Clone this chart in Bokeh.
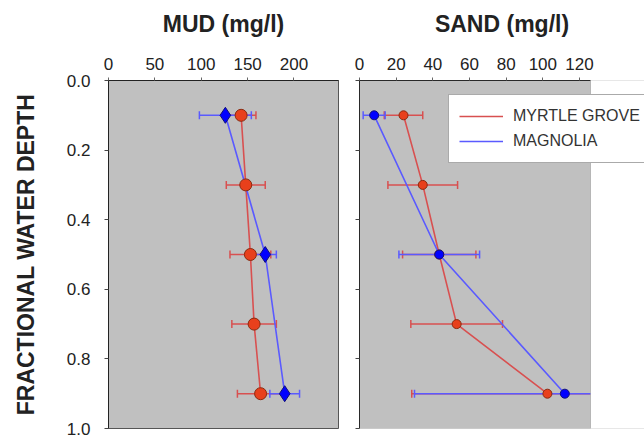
from bokeh.plotting import figure
from bokeh.models import (Range1d, FixedTicker, PrintfTickFormatter, Whisker,
                          ColumnDataSource, TeeHead, Legend, LegendItem, BoxAnnotation)
from bokeh.layouts import row
from bokeh.embed import file_html
from bokeh.resources import INLINE

# ---------------- data ----------------
depth_mg = [0.1, 0.3, 0.5, 0.7, 0.9]          # Myrtle Grove sample depths
depth_mag = [0.1, 0.5, 0.9]                   # Magnolia sample depths

mud_mg = [143, 148, 153, 157, 164]
mud_mg_err = [16, 21, 22, 24, 25]
mud_mag = [126, 169, 190]
mud_mag_err = [28, 12, 16]

sand_mg = [24, 34.5, 43.5, 53, 102.5]
sand_mg_err = [10.5, 19, 20, 25, 74]
sand_mag = [8, 43.5, 112]
sand_mag_err = [6, 22, 82]

series_names = ["MYRTLE GROVE", "MAGNOLIA"]
mud_ticks = [0, 50, 100, 150, 200]
sand_ticks = [0, 20, 40, 60, 80, 100, 120]
depth_ticks = [0.0, 0.2, 0.4, 0.6, 0.8, 1.0]

MUD_MAX = 248
SAND_MAX = 126

# ---------------- styles ----------------
FONT = "Liberation Sans"
RED_LINE = "#d85050"
RED_FILL = "#e8401c"
RED_EDGE = "#8a2a10"
BLUE_LINE = "#5a5aff"
BLUE_FILL = "#0000ff"
BLUE_EDGE = "#10107a"
FRAME_BG = "#c0c0c0"
TXT = "#222222"
OUTLINE = "#555555"


def src(depth, vals, errs):
    return ColumnDataSource(dict(
        y=depth, x=vals,
        lo=[v - e for v, e in zip(vals, errs)],
        hi=[v + e for v, e in zip(vals, errs)],
    ))


def style(p, title, ticks, show_ylabels):
    p.background_fill_color = FRAME_BG
    p.border_fill_color = "white"
    p.outline_line_color = OUTLINE
    p.outline_line_width = 1
    p.grid.visible = False

    xa = p.xaxis[0]
    xa.axis_label = title
    xa.axis_label_text_font = FONT
    xa.axis_label_text_font_size = "23px"
    xa.axis_label_text_font_style = "bold"
    xa.axis_label_text_color = TXT
    xa.axis_label_standoff = 18
    xa.ticker = FixedTicker(ticks=ticks)
    xa.major_label_text_font = FONT
    xa.major_label_text_font_size = "17px"
    xa.major_label_text_color = TXT
    xa.major_label_standoff = 8
    xa.major_tick_out = 3
    xa.major_tick_in = 0
    xa.minor_tick_line_color = None
    xa.axis_line_color = "#222222"
    xa.major_tick_line_color = "#666666"

    ya = p.yaxis[0]
    ya.ticker = FixedTicker(ticks=depth_ticks)
    if show_ylabels:
        ya.formatter = PrintfTickFormatter(format="%.1f")
    else:
        ya.major_label_overrides = {t: "" for t in depth_ticks}
    ya.major_label_text_font = FONT
    ya.major_label_text_font_size = "17px"
    ya.major_label_text_color = TXT
    ya.major_label_standoff = 14
    ya.major_tick_out = 4
    ya.major_tick_in = 0
    ya.minor_tick_line_color = None
    ya.axis_line_color = "#222222"
    ya.major_tick_line_color = "#444444"


def draw(p, s_mg, s_mag, msize_mg, msize_mag, mag_marker):
    p.add_layout(Whisker(source=s_mg, base="y", lower="lo", upper="hi", dimension="width",
                         line_color=RED_LINE, line_width=1.5,
                         lower_head=TeeHead(size=8, line_color=RED_LINE, line_width=1.5),
                         upper_head=TeeHead(size=8, line_color=RED_LINE, line_width=1.5)))
    p.add_layout(Whisker(source=s_mag, base="y", lower="lo", upper="hi", dimension="width",
                         line_color=BLUE_LINE, line_width=1.5,
                         lower_head=TeeHead(size=8, line_color=BLUE_LINE, line_width=1.5),
                         upper_head=TeeHead(size=8, line_color=BLUE_LINE, line_width=1.5)))
    l1 = p.line("x", "y", source=s_mg, line_color=RED_LINE, line_width=1.6)
    l2 = p.line("x", "y", source=s_mag, line_color=BLUE_LINE, line_width=1.6)
    m1 = p.scatter("x", "y", source=s_mg, marker="circle", size=msize_mg,
                   fill_color=RED_FILL, line_color=RED_EDGE, line_width=1)
    m2 = p.scatter("x", "y", source=s_mag, marker=mag_marker, size=msize_mag,
                   fill_color=BLUE_FILL, line_color=BLUE_EDGE, line_width=1)
    return l1, l2, m1, m2


# ---------------- MUD panel ----------------
p1 = figure(width=348, height=439, output_backend="svg", toolbar_location=None,
            title=None,
            x_range=Range1d(0, MUD_MAX), y_range=Range1d(1.0, 0.0),
            x_axis_location="above", min_border_left=108, min_border_right=10,
            min_border_top=80, min_border_bottom=11)
style(p1, "MUD (mg/l)", mud_ticks, True)
p1.yaxis[0].axis_label = "FRACTIONAL WATER DEPTH"
p1.yaxis[0].axis_label_text_font = FONT
p1.yaxis[0].axis_label_text_font_size = "23px"
p1.yaxis[0].axis_label_text_font_style = "bold"
p1.yaxis[0].axis_label_text_color = TXT
p1.yaxis[0].axis_label_standoff = 25
draw(p1, src(depth_mg, mud_mg, mud_mg_err), src(depth_mag, mud_mag, mud_mag_err),
     12, 16, "diamond")

# ---------------- SAND panel ----------------
# the frame runs to the canvas edge so that the legend can overhang the grey area
P2_W, P2_LEFT = 296, 11
GREY_W = 231
p2 = figure(width=P2_W, height=439, output_backend="svg", toolbar_location=None,
            title=None,
            x_range=Range1d(0, SAND_MAX * (P2_W - P2_LEFT) / GREY_W),
            y_range=Range1d(1.0, 0.0),
            x_axis_location="above", min_border_left=P2_LEFT, min_border_right=0,
            min_border_top=80, min_border_bottom=11)
style(p2, "SAND (mg/l)", sand_ticks, False)
p2.outline_line_color = None
p2.xaxis[0].bounds = (0, SAND_MAX)
l1, l2, m1, m2 = draw(p2, src(depth_mg, sand_mg, sand_mg_err),
                      src(depth_mag, sand_mag, sand_mag_err), 9, 9, "circle")

# white area right of the plotting region, then the region's outline
p2.add_layout(BoxAnnotation(left=SAND_MAX, fill_color="white", fill_alpha=1.0,
                            line_color=None))
p2.add_layout(BoxAnnotation(left=0, right=SAND_MAX, fill_color=None, fill_alpha=0,
                            line_color=OUTLINE, line_width=1))

# legend-only glyphs (no data) to show the legend symbols
lg1 = p2.scatter(x=[], y=[], marker="circle", size=12, fill_color=RED_FILL,
                 line_color=RED_EDGE)
lg2 = p2.scatter(x=[], y=[], marker="diamond", size=16, fill_color=BLUE_FILL,
                 line_color=BLUE_EDGE)
legend = Legend(items=[LegendItem(label=series_names[0], renderers=[l1, lg1]),
                       LegendItem(label=series_names[1], renderers=[l2, lg2])],
                location=(89, 265), orientation="vertical",
                label_text_font=FONT, label_text_font_size="16px",
                label_text_color="#333333", glyph_width=44, glyph_height=22,
                label_standoff=10, label_width=150, padding=10, spacing=3, margin=0,
                border_line_color=OUTLINE, border_line_width=1,
                background_fill_color="white", background_fill_alpha=1.0)
p2.add_layout(legend, "center")

layout = row(p1, p2)
open("out.html", "w").write(file_html(layout, INLINE))
